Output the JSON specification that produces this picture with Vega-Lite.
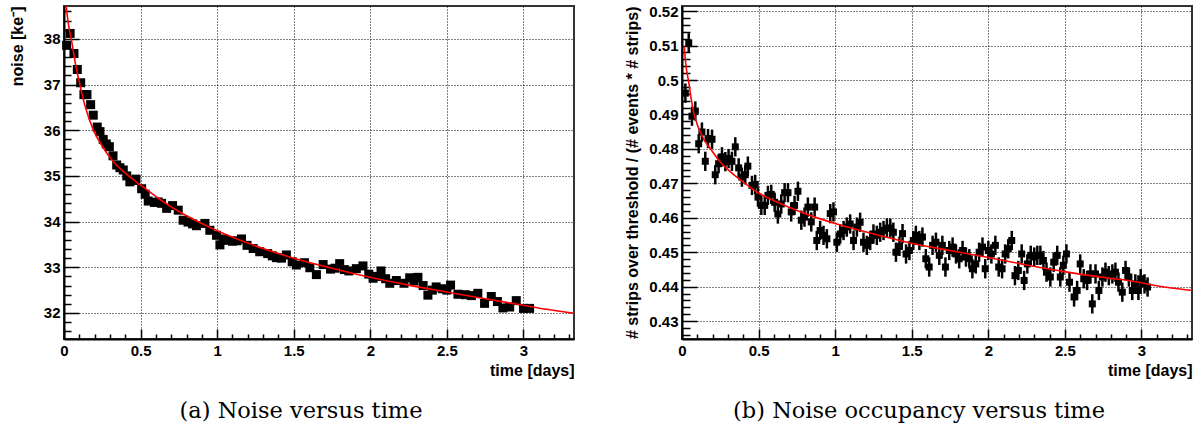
{
  "$schema": "https://vega.github.io/schema/vega-lite/v6.json",
  "padding": {"left": 8, "top": 3, "right": 5, "bottom": 0},
  "background": "white",
  "config": {
    "view": {"stroke": "#333333", "strokeWidth": 2},
    "axis": {
      "labelFont": "Liberation Sans", "labelFontWeight": "bold", "labelFontSize": 15, "labelColor": "black",
      "titleFont": "Liberation Sans", "titleFontWeight": "bold", "titleFontSize": 16, "titleColor": "black",
      "domainColor": "black", "domainWidth": 2, "tickColor": "black", "tickWidth": 1.5,
      "gridColor": "black", "gridDash": [1, 2], "gridWidth": 1,
      "labelOverlap": false, "labelFlush": false, "labelBound": false
    },
    "title": {"font": "DejaVu Serif", "fontSize": 22.5, "fontWeight": "normal", "color": "black"},
    "concat": {"spacing": 48}
  },
  "datasets": {
    "noise": [
      {"t":0.017,"v":37.86},{"t":0.04,"v":38.12},{"t":0.065,"v":37.68},{"t":0.087,"v":37.33},{"t":0.109,"v":37.04},
      {"t":0.13,"v":36.78},{"t":0.15,"v":36.78},{"t":0.174,"v":36.56},{"t":0.191,"v":36.33},{"t":0.217,"v":36.07},
      {"t":0.235,"v":35.97},{"t":0.256,"v":35.8},{"t":0.276,"v":35.7},{"t":0.296,"v":35.64},{"t":0.32,"v":35.44},{"t":0.344,"v":35.24},
      {"t":0.365,"v":35.18},{"t":0.387,"v":35.13},{"t":0.41,"v":35.0},{"t":0.43,"v":34.87},{"t":0.45,"v":34.9},{"t":0.47,"v":34.93},{"t":0.507,"v":34.72},
      {"t":0.53,"v":34.6},{"t":0.55,"v":34.45},{"t":0.59,"v":34.42},{"t":0.615,"v":34.43},{"t":0.637,"v":34.4},{"t":0.67,"v":34.29},{"t":0.709,"v":34.35},
      {"t":0.746,"v":34.25},{"t":0.778,"v":34.03},{"t":0.81,"v":33.99},{"t":0.84,"v":33.95},{"t":0.865,"v":33.91},{"t":0.92,"v":33.96},
      {"t":0.952,"v":33.81},{"t":0.996,"v":33.7},{"t":1.018,"v":33.49},{"t":1.04,"v":33.62},{"t":1.061,"v":33.59},{"t":1.1,"v":33.57},{"t":1.13,"v":33.58},
      {"t":1.159,"v":33.62},{"t":1.195,"v":33.48},{"t":1.235,"v":33.41},{"t":1.278,"v":33.34},{"t":1.33,"v":33.3},
      {"t":1.36,"v":33.25},{"t":1.387,"v":33.21},{"t":1.42,"v":33.2},{"t":1.452,"v":33.27},{"t":1.49,"v":33.12},{"t":1.517,"v":33.05},{"t":1.57,"v":33.1},
      {"t":1.605,"v":32.99},{"t":1.648,"v":32.84},{"t":1.692,"v":33.06},{"t":1.74,"v":32.96},{"t":1.77,"v":32.98},{"t":1.8,"v":33.08},
      {"t":1.83,"v":32.95},{"t":1.86,"v":32.92},{"t":1.909,"v":32.97},{"t":1.952,"v":33.03},{"t":1.99,"v":32.85},{"t":2.018,"v":32.76},{"t":2.045,"v":32.8},{"t":2.07,"v":32.92},
      {"t":2.1,"v":32.75},{"t":2.127,"v":32.65},{"t":2.17,"v":32.71},{"t":2.22,"v":32.65},{"t":2.257,"v":32.77},{"t":2.285,"v":32.7},{"t":2.311,"v":32.78},
      {"t":2.345,"v":32.6},{"t":2.376,"v":32.39},{"t":2.405,"v":32.5},{"t":2.43,"v":32.57},{"t":2.47,"v":32.53},{"t":2.5,"v":32.5},{"t":2.524,"v":32.61},{"t":2.572,"v":32.41},
      {"t":2.62,"v":32.4},{"t":2.66,"v":32.38},{"t":2.702,"v":32.43},{"t":2.746,"v":32.21},{"t":2.79,"v":32.36},{"t":2.83,"v":32.25},
      {"t":2.866,"v":32.11},{"t":2.91,"v":32.13},{"t":2.953,"v":32.27},{"t":3.0,"v":32.1},{"t":3.04,"v":32.1}
    ],
    "noisefit": [
      {"t":0.01,"v":38.9},{"t":0.02,"v":38.55},{"t":0.03,"v":38.3},{"t":0.05,"v":37.95},{"t":0.075,"v":37.45},
      {"t":0.1,"v":37.05},{"t":0.14,"v":36.5},{"t":0.19,"v":36.02},{"t":0.25,"v":35.65},{"t":0.32,"v":35.32},
      {"t":0.4,"v":35.06},{"t":0.5,"v":34.8},{"t":0.62,"v":34.5},{"t":0.75,"v":34.22},{"t":0.88,"v":33.99},
      {"t":1.0,"v":33.8},{"t":1.2,"v":33.53},{"t":1.5,"v":33.2},{"t":1.75,"v":32.98},{"t":2.0,"v":32.78},
      {"t":2.25,"v":32.61},{"t":2.5,"v":32.46},{"t":2.75,"v":32.31},{"t":3.0,"v":32.17},{"t":3.15,"v":32.08},{"t":3.33,"v":31.99}
    ],
    "occ": [
      {"t":0.022,"v":0.4962,"e":0.0028},{"t":0.044,"v":0.5108,"e":0.0028},{"t":0.065,"v":0.4895,"e":0.0028},{"t":0.087,"v":0.491,"e":0.0028},{"t":0.109,"v":0.4815,"e":0.0028},
      {"t":0.13,"v":0.4849,"e":0.0028},{"t":0.152,"v":0.4764,"e":0.0028},{"t":0.17,"v":0.483,"e":0.0028},{"t":0.196,"v":0.4828,"e":0.0028},{"t":0.217,"v":0.4725,"e":0.0028},
      {"t":0.239,"v":0.4757,"e":0.0028},{"t":0.261,"v":0.4777,"e":0.0028},{"t":0.283,"v":0.4763,"e":0.0028},{"t":0.304,"v":0.4772,"e":0.0028},{"t":0.326,"v":0.4764,"e":0.0028},
      {"t":0.348,"v":0.4806,"e":0.0028},{"t":0.37,"v":0.4745,"e":0.0028},{"t":0.391,"v":0.4718,"e":0.0028},{"t":0.413,"v":0.4725,"e":0.0028},{"t":0.43,"v":0.475,"e":0.0028},
      {"t":0.457,"v":0.4694,"e":0.0028},{"t":0.478,"v":0.4697,"e":0.0028},{"t":0.496,"v":0.466,"e":0.0028},{"t":0.518,"v":0.4636,"e":0.0028},{"t":0.54,"v":0.4636,"e":0.0028},
      {"t":0.561,"v":0.4665,"e":0.0028},{"t":0.583,"v":0.4668,"e":0.0028},{"t":0.605,"v":0.4645,"e":0.0028},{"t":0.626,"v":0.4611,"e":0.0028},{"t":0.648,"v":0.464,"e":0.0028},
      {"t":0.67,"v":0.4673,"e":0.0028},{"t":0.692,"v":0.4673,"e":0.0028},{"t":0.713,"v":0.4617,"e":0.0028},{"t":0.735,"v":0.4636,"e":0.0028},{"t":0.757,"v":0.4677,"e":0.0028},
      {"t":0.779,"v":0.4593,"e":0.0028},{"t":0.8,"v":0.4602,"e":0.0028},{"t":0.822,"v":0.4631,"e":0.0028},{"t":0.844,"v":0.4588,"e":0.0028},{"t":0.866,"v":0.4631,"e":0.0028},
      {"t":0.88,"v":0.4534,"e":0.0028},{"t":0.902,"v":0.4563,"e":0.0028},{"t":0.924,"v":0.4549,"e":0.0028},{"t":0.946,"v":0.4539,"e":0.0028},{"t":0.968,"v":0.4612,"e":0.0028},
      {"t":0.989,"v":0.4617,"e":0.0028},{"t":1.011,"v":0.4529,"e":0.0028},{"t":1.033,"v":0.4553,"e":0.0028},{"t":1.055,"v":0.4563,"e":0.0028},{"t":1.076,"v":0.4573,"e":0.0028},
      {"t":1.098,"v":0.4582,"e":0.0028},{"t":1.12,"v":0.4534,"e":0.0028},{"t":1.142,"v":0.4573,"e":0.0028},{"t":1.163,"v":0.4587,"e":0.0028},{"t":1.185,"v":0.4529,"e":0.0028},
      {"t":1.207,"v":0.452,"e":0.0028},{"t":1.229,"v":0.4534,"e":0.0028},{"t":1.25,"v":0.4553,"e":0.0028},{"t":1.272,"v":0.4549,"e":0.0028},{"t":1.294,"v":0.4558,"e":0.0028},
      {"t":1.316,"v":0.4563,"e":0.0028},{"t":1.338,"v":0.457,"e":0.0028},{"t":1.36,"v":0.457,"e":0.0028},{"t":1.38,"v":0.4558,"e":0.0028},{"t":1.397,"v":0.45,"e":0.0028},
      {"t":1.42,"v":0.4517,"e":0.0028},{"t":1.44,"v":0.4554,"e":0.0028},{"t":1.463,"v":0.4495,"e":0.0028},{"t":1.485,"v":0.4505,"e":0.0028},{"t":1.51,"v":0.4534,"e":0.0028},
      {"t":1.527,"v":0.4549,"e":0.0028},{"t":1.55,"v":0.4534,"e":0.0028},{"t":1.57,"v":0.4544,"e":0.0028},{"t":1.592,"v":0.4481,"e":0.0028},{"t":1.614,"v":0.4457,"e":0.0028},
      {"t":1.636,"v":0.452,"e":0.0028},{"t":1.658,"v":0.4529,"e":0.0028},{"t":1.68,"v":0.4491,"e":0.0028},{"t":1.7,"v":0.452,"e":0.0028},{"t":1.72,"v":0.4457,"e":0.0028},
      {"t":1.745,"v":0.4505,"e":0.0028},{"t":1.767,"v":0.4515,"e":0.0028},{"t":1.789,"v":0.4495,"e":0.0028},{"t":1.81,"v":0.4481,"e":0.0028},{"t":1.832,"v":0.4505,"e":0.0028},
      {"t":1.854,"v":0.4486,"e":0.0028},{"t":1.876,"v":0.4481,"e":0.0028},{"t":1.896,"v":0.4452,"e":0.0028},{"t":1.918,"v":0.4466,"e":0.0028},{"t":1.94,"v":0.45,"e":0.0028},
      {"t":1.962,"v":0.4515,"e":0.0028},{"t":1.98,"v":0.4452,"e":0.0028},{"t":2.0,"v":0.4505,"e":0.0028},{"t":2.02,"v":0.4495,"e":0.0028},{"t":2.046,"v":0.452,"e":0.0028},
      {"t":2.068,"v":0.4457,"e":0.0028},{"t":2.09,"v":0.4452,"e":0.0028},{"t":2.11,"v":0.4495,"e":0.0028},{"t":2.13,"v":0.451,"e":0.0028},{"t":2.153,"v":0.4534,"e":0.0028},
      {"t":2.174,"v":0.4432,"e":0.0028},{"t":2.196,"v":0.4447,"e":0.0028},{"t":2.218,"v":0.4495,"e":0.0028},{"t":2.234,"v":0.4418,"e":0.0028},{"t":2.255,"v":0.4466,"e":0.0028},
      {"t":2.277,"v":0.4491,"e":0.0028},{"t":2.3,"v":0.4486,"e":0.0028},{"t":2.32,"v":0.4491,"e":0.0028},{"t":2.34,"v":0.4491,"e":0.0028},{"t":2.36,"v":0.4476,"e":0.0028},
      {"t":2.38,"v":0.4442,"e":0.0028},{"t":2.405,"v":0.4428,"e":0.0028},{"t":2.427,"v":0.4471,"e":0.0028},{"t":2.45,"v":0.4491,"e":0.0028},{"t":2.47,"v":0.4428,"e":0.0028},
      {"t":2.49,"v":0.4462,"e":0.0028},{"t":2.51,"v":0.4495,"e":0.0028},{"t":2.53,"v":0.4413,"e":0.0028},{"t":2.56,"v":0.437,"e":0.0028},{"t":2.58,"v":0.4389,"e":0.0028},
      {"t":2.6,"v":0.4466,"e":0.0028},{"t":2.623,"v":0.4423,"e":0.0028},{"t":2.645,"v":0.4418,"e":0.0028},{"t":2.667,"v":0.4437,"e":0.0028},{"t":2.679,"v":0.435,"e":0.0028},
      {"t":2.7,"v":0.4437,"e":0.0028},{"t":2.722,"v":0.4389,"e":0.0028},{"t":2.745,"v":0.4428,"e":0.0028},{"t":2.765,"v":0.4442,"e":0.0028},{"t":2.787,"v":0.4432,"e":0.0028},
      {"t":2.81,"v":0.4437,"e":0.0028},{"t":2.83,"v":0.4442,"e":0.0028},{"t":2.85,"v":0.4413,"e":0.0028},{"t":2.875,"v":0.4384,"e":0.0028},{"t":2.896,"v":0.4447,"e":0.0028},
      {"t":2.918,"v":0.4428,"e":0.0028},{"t":2.94,"v":0.4389,"e":0.0028},{"t":2.96,"v":0.4408,"e":0.0028},{"t":2.98,"v":0.4389,"e":0.0028},{"t":2.995,"v":0.4423,"e":0.0028},
      {"t":3.02,"v":0.4408,"e":0.0028},{"t":3.04,"v":0.4399,"e":0.0028}
    ],
    "occfit": [
      {"t":0.015,"v":0.5097},{"t":0.025,"v":0.5045},{"t":0.044,"v":0.4994},{"t":0.06,"v":0.4945},{"t":0.076,"v":0.4907},
      {"t":0.1,"v":0.487},{"t":0.12,"v":0.4849},{"t":0.15,"v":0.4822},{"t":0.185,"v":0.4801},{"t":0.25,"v":0.4762},
      {"t":0.3,"v":0.474},{"t":0.359,"v":0.4718},{"t":0.42,"v":0.4697},{"t":0.489,"v":0.4675},{"t":0.62,"v":0.4646},
      {"t":0.837,"v":0.4607},{"t":1.011,"v":0.4582},{"t":1.272,"v":0.4551},{"t":1.489,"v":0.4527},{"t":1.75,"v":0.4505},
      {"t":1.983,"v":0.4486},{"t":2.25,"v":0.4463},{"t":2.505,"v":0.4443},{"t":2.75,"v":0.4427},{"t":2.983,"v":0.4413},
      {"t":3.08,"v":0.4404},{"t":3.33,"v":0.4389}
    ]
  },
  "hconcat": [
    {
      "width": 510, "height": 333,
      "title": {"text": "(a) Noise versus time", "orient": "bottom", "frame": "group", "anchor": "middle", "dx": -18, "offset": 22},
      "resolve": {"axis": {"x": "independent", "y": "independent"}},
      "layer": [
        {"data": {"name": "noise"}, "mark": {"type": "square", "size": 81, "color": "black", "opacity": 1, "filled": true},
          "encoding": {
            "x": {"field": "t", "type": "quantitative",
              "scale": {"domain": [0, 3.33], "nice": false, "zero": false},
              "axis": {"orient": "bottom", "title": "time [days]", "titleAnchor": "end", "titlePadding": 4, "ticks": false, "labelPadding": 4, "format": "~g",
                "values": [0,0.5,1,1.5,2,2.5,3]}},
            "y": {"field": "v", "type": "quantitative",
              "scale": {"domain": [31.43, 38.72], "nice": false, "zero": false},
              "axis": {"orient": "left", "title": "noise [ke⁻]", "titleAnchor": "end", "titlePadding": 18, "ticks": false, "labelPadding": 4, "format": "~g",
                "values": [32,33,34,35,36,37,38]}}
          }},
        {"data": {"name": "noisefit"}, "mark": {"type": "line", "color": "red", "strokeWidth": 1.6, "clip": true, "interpolate": "monotone"},
          "encoding": {
            "x": {"field": "t", "type": "quantitative",
              "axis": {"orient": "bottom", "offset": -10, "tickSize": 10, "labels": false, "domain": false, "grid": false, "title": null,
                "values": [0,0.1,0.2,0.3,0.4,0.5,0.6,0.7,0.8,0.9,1,1.1,1.2,1.3,1.4,1.5,1.6,1.7,1.8,1.9,2,2.1,2.2,2.3,2.4,2.5,2.6,2.7,2.8,2.9,3,3.1,3.2,3.3],
                "tickDash": {"condition": {"test": "abs(datum.value*2-round(datum.value*2))<0.001", "value": [30, 0]}, "value": [0, 5, 5, 100]}}},
            "y": {"field": "v", "type": "quantitative",
              "axis": {"orient": "left", "offset": -15, "tickSize": 15, "labels": false, "domain": false, "grid": false, "title": null,
                "values": [31.6,31.8,32,32.2,32.4,32.6,32.8,33,33.2,33.4,33.6,33.8,34,34.2,34.4,34.6,34.8,35,35.2,35.4,35.6,35.8,36,36.2,36.4,36.6,36.8,37,37.2,37.4,37.6,37.8,38,38.2,38.4,38.6],
                "tickDash": {"condition": {"test": "abs(datum.value-round(datum.value))<0.001", "value": [30, 0]}, "value": [0, 8, 7, 100]}}}
          }}
      ]
    },
    {
      "width": 510, "height": 333,
      "title": {"text": "(b) Noise occupancy versus time", "orient": "bottom", "frame": "group", "anchor": "middle", "dx": -18, "offset": 22},
      "resolve": {"axis": {"x": "independent", "y": "independent"}},
      "layer": [
        {"data": {"name": "occ"}, "mark": {"type": "errorbar", "color": "black", "thickness": 2.5},
          "encoding": {
            "x": {"field": "t", "type": "quantitative",
              "scale": {"domain": [0, 3.33], "nice": false, "zero": false},
              "axis": {"orient": "bottom", "title": "time [days]", "titleAnchor": "end", "titlePadding": 4, "ticks": false, "labelPadding": 4, "format": "~g",
                "values": [0,0.5,1,1.5,2,2.5,3]}},
            "y": {"field": "v", "type": "quantitative",
              "scale": {"domain": [0.4248, 0.5215], "nice": false, "zero": false},
              "axis": {"orient": "left", "title": "# strips over threshold / (# events * # strips)", "titleAnchor": "end", "titlePadding": 8, "ticks": false, "labelPadding": 4, "format": "~g",
                "values": [0.43,0.44,0.45,0.46,0.47,0.48,0.49,0.5,0.51,0.52]}},
            "yError": {"field": "e"}
          }},
        {"data": {"name": "occ"}, "mark": {"type": "square", "size": 49, "color": "black", "opacity": 1, "filled": true},
          "encoding": {
            "x": {"field": "t", "type": "quantitative", "axis": null},
            "y": {"field": "v", "type": "quantitative", "axis": null}
          }},
        {"data": {"name": "occfit"}, "mark": {"type": "line", "color": "red", "strokeWidth": 1.6, "clip": true, "interpolate": "monotone"},
          "encoding": {
            "x": {"field": "t", "type": "quantitative",
              "axis": {"orient": "bottom", "offset": -10, "tickSize": 10, "labels": false, "domain": false, "grid": false, "title": null,
                "values": [0,0.1,0.2,0.3,0.4,0.5,0.6,0.7,0.8,0.9,1,1.1,1.2,1.3,1.4,1.5,1.6,1.7,1.8,1.9,2,2.1,2.2,2.3,2.4,2.5,2.6,2.7,2.8,2.9,3,3.1,3.2,3.3],
                "tickDash": {"condition": {"test": "abs(datum.value*2-round(datum.value*2))<0.001", "value": [30, 0]}, "value": [0, 5, 5, 100]}}},
            "y": {"field": "v", "type": "quantitative",
              "axis": {"orient": "left", "offset": -15, "tickSize": 15, "labels": false, "domain": false, "grid": false, "title": null,
                "values": [0.426,0.428,0.43,0.432,0.434,0.436,0.438,0.44,0.442,0.444,0.446,0.448,0.45,0.452,0.454,0.456,0.458,0.46,0.462,0.464,0.466,0.468,0.47,0.472,0.474,0.476,0.478,0.48,0.482,0.484,0.486,0.488,0.49,0.492,0.494,0.496,0.498,0.5,0.502,0.504,0.506,0.508,0.51,0.512,0.514,0.516,0.518,0.52],
                "tickDash": {"condition": {"test": "abs(datum.value*100-round(datum.value*100))<0.001", "value": [30, 0]}, "value": [0, 7, 8, 100]}}}
          }}
      ]
    }
  ]
}
